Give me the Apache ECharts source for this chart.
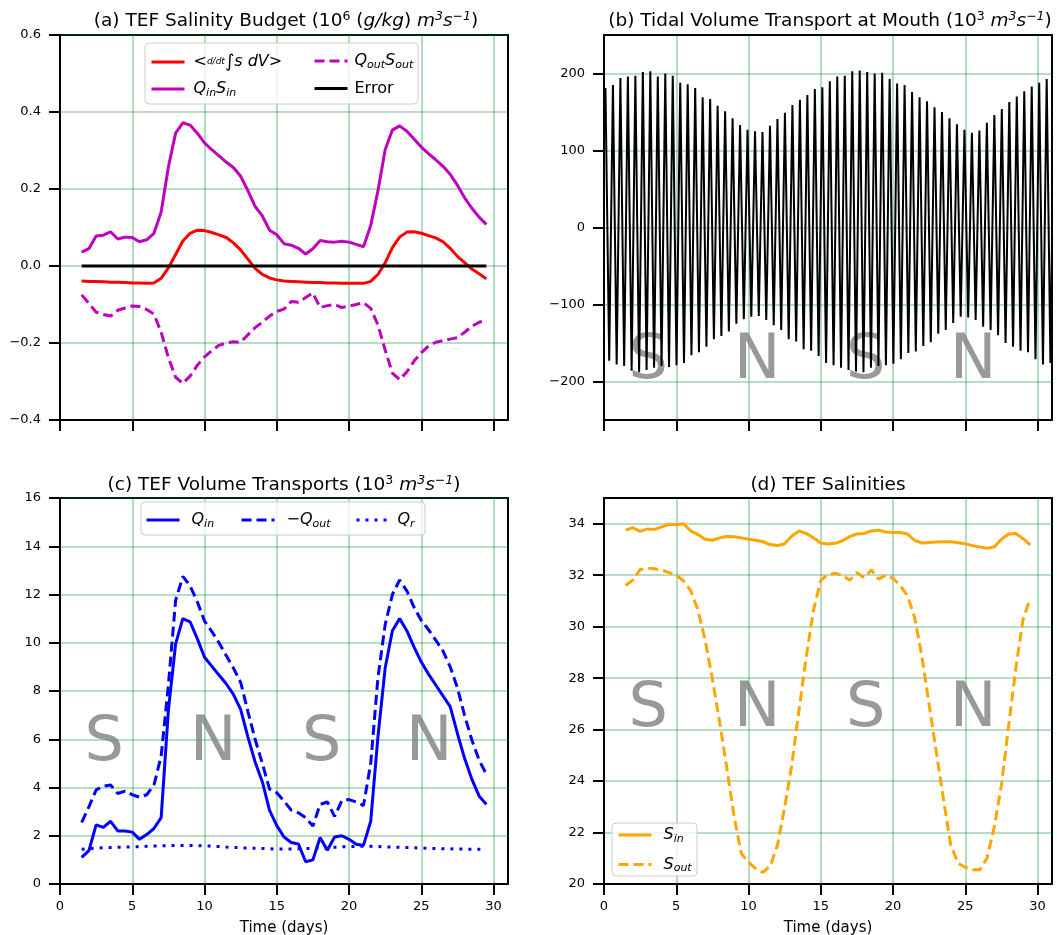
<!DOCTYPE html>
<html><head><meta charset="utf-8">
<script src="https://cdn.jsdelivr.net/npm/echarts@6/dist/echarts.min.js"></script>
<style>html,body{margin:0;padding:0;background:#fff}#c{width:1057px;height:935px}</style>
</head><body><div id="c"></div><script>
// ---------- data ----------
const days = [1.5,2,2.5,3,3.5,4,4.5,5,5.5,6,6.5,7,7.5,8,8.5,9,9.5,10,10.5,11,11.5,12,12.5,13,13.5,14,14.5,15,15.5,16,16.5,17,17.5,18,18.5,19,19.5,20,20.5,21,21.5,22,22.5,23,23.5,24,24.5,25,25.5,26,26.5,27,27.5,28,28.5,29,29.5];
// (a) salinity budget
const dsdt = [-0.039,-0.040,-0.040,-0.041,-0.042,-0.042,-0.043,-0.044,-0.044,-0.045,
  -0.044,-0.032,-0.005,0.030,0.065,0.085,0.093,0.092,0.087,0.081,
  0.074,0.060,0.042,0.018,-0.006,-0.022,-0.031,-0.036,-0.039,-0.040,
  -0.041,-0.042,-0.043,-0.043,-0.044,-0.044,-0.045,-0.045,-0.045,-0.045,
  -0.040,-0.022,0.008,0.048,0.075,0.088,0.089,0.085,0.079,0.073,
  0.063,0.046,0.025,0.009,-0.008,-0.020,-0.033];
const qinSin = [0.036,0.045,0.078,0.080,0.089,0.070,0.075,0.074,0.063,0.068,
  0.085,0.140,0.257,0.345,0.372,0.366,0.345,0.320,0.302,0.286,
  0.270,0.256,0.233,0.196,0.155,0.130,0.093,0.081,0.058,0.054,
  0.046,0.031,0.045,0.066,0.063,0.062,0.064,0.062,0.056,0.050,
  0.105,0.195,0.302,0.353,0.364,0.350,0.330,0.309,0.292,0.276,
  0.259,0.238,0.210,0.177,0.150,0.127,0.108];
const qoutSout = [-0.075,-0.097,-0.120,-0.126,-0.130,-0.115,-0.109,-0.104,-0.105,-0.113,
  -0.125,-0.172,-0.238,-0.289,-0.305,-0.286,-0.258,-0.236,-0.220,-0.206,
  -0.200,-0.197,-0.198,-0.179,-0.160,-0.146,-0.130,-0.118,-0.112,-0.092,
  -0.094,-0.082,-0.070,-0.108,-0.103,-0.100,-0.108,-0.104,-0.100,-0.095,
  -0.110,-0.153,-0.218,-0.278,-0.295,-0.275,-0.247,-0.225,-0.208,-0.198,
  -0.194,-0.190,-0.186,-0.172,-0.157,-0.146,-0.140];
const budgetError = [0,0,0,0,0,0,0,0,0,0,0,0,0,0,0,0,0,0,0,0,0,0,0,0,0,0,0,0,0,0,
  0,0,0,0,0,0,0,0,0,0,0,0,0,0,0,0,0,0,0,0,0,0,0,0,0,0,0];
// (b) tidal volume transport: successive flood peaks and ebb troughs (10^3 m3/s)
const tideStart = 0.1, tideLowStart = 0.36, tidePeriod = 0.5175;
const tideHigh = [181,185,194,196,197,202,203,196,200,197,
  188,186,181,169,167,158,151,142,133,127,
  125,124,132,141,149,159,166,172,180,182,
  190,196,197,203,204,202,200,201,193,187,
  185,176,169,164,156,150,142,134,127,123,
  126,136,146,154,163,170,177,183,188,193,196];
const tideLow = [-173,-178,-180,-186,-188,-185,-182,-180,-181,-179,
  -176,-166,-162,-155,-145,-141,-135,-125,-119,-116,
  -115,-120,-127,-133,-145,-148,-158,-160,-167,-176,
  -179,-182,-185,-187,-188,-182,-180,-179,-177,-171,
  -163,-161,-154,-149,-138,-133,-124,-116,-117,-120,
  -129,-133,-140,-150,-155,-160,-162,-171,-178,-176];
// (c) volume transports
const qin = [1.10,1.38,2.45,2.35,2.60,2.20,2.20,2.15,1.85,2.05,
  2.30,2.75,7.20,9.95,11.00,10.87,10.17,9.40,9.03,8.66,
  8.30,7.86,7.24,6.10,5.06,4.24,3.05,2.42,1.95,1.72,
  1.66,0.92,1.00,1.93,1.40,1.95,2.00,1.85,1.65,1.60,
  2.60,6.10,8.95,10.50,11.00,10.50,9.82,9.20,8.70,8.25,
  7.80,7.35,6.24,5.20,4.34,3.65,3.30];
const negQout = [2.55,3.20,3.90,4.05,4.10,3.75,3.85,3.70,3.60,3.70,
  4.10,5.30,8.25,11.75,12.75,12.36,11.70,10.90,10.47,10.00,
  9.47,8.95,8.36,7.16,6.00,5.00,3.93,3.78,3.44,3.06,
  2.95,2.75,2.40,3.30,3.40,2.80,3.45,3.50,3.40,3.25,
  5.00,8.55,10.75,12.00,12.60,12.15,11.47,10.92,10.54,10.11,
  9.66,9.00,8.13,6.98,5.97,5.14,4.55];
const qr = [1.44,1.47,1.49,1.50,1.51,1.52,1.53,1.54,1.55,1.56,
  1.57,1.58,1.59,1.60,1.60,1.60,1.59,1.58,1.57,1.55,
  1.53,1.52,1.50,1.49,1.48,1.47,1.46,1.45,1.45,1.45,
  1.46,1.47,1.48,1.49,1.50,1.52,1.54,1.55,1.56,1.56,
  1.56,1.55,1.54,1.53,1.52,1.51,1.50,1.49,1.48,1.47,
  1.46,1.46,1.45,1.45,1.44,1.44,1.44];
// (d) salinities
const sIn = [33.75,33.85,33.70,33.80,33.78,33.88,33.98,33.96,34.00,33.72,
  33.58,33.40,33.36,33.45,33.50,33.49,33.45,33.40,33.36,33.30,
  33.19,33.15,33.22,33.52,33.72,33.62,33.45,33.25,33.21,33.24,
  33.34,33.50,33.60,33.62,33.72,33.75,33.68,33.66,33.66,33.60,
  33.35,33.25,33.27,33.29,33.30,33.30,33.26,33.22,33.15,33.10,
  33.05,33.10,33.40,33.60,33.62,33.42,33.18];
const sOut = [31.60,31.82,32.22,32.27,32.25,32.20,32.10,32.00,31.78,31.40,
  30.65,29.47,27.97,26.30,24.50,22.63,21.19,20.84,20.60,20.45,
  20.70,21.50,22.98,24.64,26.78,28.85,30.65,31.80,32.03,32.07,
  32.00,31.80,32.10,31.90,32.20,31.85,32.00,31.88,31.60,31.20,
  30.35,28.83,26.97,25.10,23.26,21.50,20.80,20.65,20.55,20.55,
  21.00,22.20,23.84,26.14,28.40,30.30,31.10];
// annotations (spring / neap)
const phaseLetters = ['S','N','S','N'];
const phaseDays = [3.05, 10.6, 18.1, 25.55];
const phaseYb = -175, phaseYc = 5.8, phaseYd = 26.75;
// ticks
const xTicks = [0,5,10,15,20,25,30];
const yTicksA = [-0.4,-0.2,0,0.2,0.4,0.6];
const yTicksB = [-200,-100,0,100,200];
const yTicksC = [0,2,4,6,8,10,12,14,16];
const yTicksD = [20,22,24,26,28,30,32,34];

// ---------- chart ----------
const FONT = 'DejaVu Sans';
const GREEN = 'rgba(0,140,50,0.38)';
const chart = echarts.init(document.getElementById('c'), null, {renderer: 'canvas'});
const pair = (arr) => days.map((d, i) => [d, arr[i]]);
const tideData = [];
for (let k = 0; k < tideHigh.length; k++) {
  tideData.push([tideStart + k * tidePeriod, tideHigh[k]]);
  if (k < tideLow.length) tideData.push([tideLowStart + k * tidePeriod, tideLow[k]]);
}
const minus = (s) => String(s).replace('-', '\u2212');

const gridBox = {show: true, borderColor: '#000', borderWidth: 2, backgroundColor: 'transparent',
  containLabel: false, outerBoundsMode: 'none'};
function xAx(gi, labels) {
  return {
    type: 'value', gridIndex: gi, min: 0, max: 31, interval: 5,
    axisLine: {show: true, onZero: false, lineStyle: {color: '#000', width: 2}},
    axisTick: {show: true, length: 11, customValues: xTicks, lineStyle: {color: '#000', width: 2}},
    axisLabel: {show: labels, customValues: xTicks, margin: 16, fontSize: 13, color: '#000', fontFamily: FONT},
    splitLine: {show: true, lineStyle: {color: GREEN, width: 1.6}},
    name: labels ? 'Time (days)' : '', nameLocation: 'middle', nameGap: 37,
    nameTextStyle: {fontSize: 15, fontFamily: FONT, color: '#000'}
  };
}
function yAx(gi, min, max, interval, ticks, fmt) {
  const o = {
    type: 'value', gridIndex: gi, min: min, max: max,
    axisLine: {show: true, onZero: false, lineStyle: {color: '#000', width: 2}},
    axisTick: {show: true, length: 11, customValues: ticks, lineStyle: {color: '#000', width: 2}},
    axisLabel: {show: true, customValues: ticks, margin: 19, fontSize: 13, color: '#000', fontFamily: FONT, formatter: fmt},
    splitLine: {show: true, lineStyle: {color: GREEN, width: 1.6}}
  };
  if (interval) o.interval = interval;
  return o;
}
function line(name, xi, data, color, type, width) {
  return {
    name: name, type: 'line', xAxisIndex: xi, yAxisIndex: xi, data: data,
    symbol: 'none', z: 3, silent: true,
    lineStyle: {color: color, width: width || 3, type: type || 'solid', cap: 'butt'},
    itemStyle: {color: color}
  };
}
function letters(xi, y) {
  return {
    type: 'scatter', xAxisIndex: xi, yAxisIndex: xi, z: 1, silent: true,
    symbolSize: 1, itemStyle: {color: 'transparent'},
    data: phaseDays.map((d, i) => [d, y, phaseLetters[i]]),
    label: {show: true, position: 'inside', formatter: (p) => p.value[2],
      fontSize: 62, fontFamily: FONT, color: '#808080'}
  };
}

const rich = {
  n: {fontFamily: FONT, fontSize: 16, color: '#000', lineHeight: 19},
  i: {fontFamily: FONT, fontSize: 16, fontStyle: 'italic', color: '#000', lineHeight: 19},
  b: {fontFamily: FONT, fontSize: 11, fontStyle: 'italic', color: '#000', verticalAlign: 'bottom', lineHeight: 11},
  f: {fontFamily: FONT, fontSize: 9, fontStyle: 'italic', color: '#000', lineHeight: 19},
  g: {fontFamily: FONT, fontSize: 18, color: '#000', lineHeight: 19}
};
const legendText = {
  dsdt: '{n|<}{f|d/dt}{g|\u222B}{i|s dV}{n|>}',
  QinSin: '{i|Q}{b|in}{i|S}{b|in}',
  QoutSout: '{i|Q}{b|out}{i|S}{b|out}',
  Error: '{n|Error}',
  Qin: '{i|Q}{b|in}',
  negQout: '{n|\u2212}{i|Q}{b|out}',
  Qr: '{i|Q}{b|r}',
  Sin: '{i|S}{b|in}',
  Sout: '{i|S}{b|out}'
};
function legend(names, left, top, orient, textPad, gap) {
  return {
    data: names, left: left, top: top, orient: orient || 'vertical', padding: 0,
    itemWidth: 33, itemHeight: 14, itemGap: gap || 12, selectedMode: false, z: 5,
    itemStyle: {opacity: 0},
    lineStyle: {width: 3},
    formatter: (n) => legendText[n],
    textStyle: {rich: rich, padding: [0, 0, 0, textPad]}
  };
}

const tRich = {
  n: {fontFamily: FONT, fontSize: 18.5, fill: '#000', lineHeight: 22},
  i: {fontFamily: FONT, fontSize: 18.5, fontStyle: 'italic', fill: '#000', lineHeight: 22},
  s: {fontFamily: FONT, fontSize: 12.5, fill: '#000', verticalAlign: 'top', lineHeight: 12},
  si: {fontFamily: FONT, fontSize: 12.5, fontStyle: 'italic', fill: '#000', verticalAlign: 'top', lineHeight: 12}
};
function title(x, y, text) {
  return {type: 'text', x: x, y: y, z: 10, silent: true,
    style: {text: text, align: 'center', verticalAlign: 'middle', rich: tRich, fontFamily: FONT, fontSize: 18.5, fill: '#000'}};
}
function frame(x, y, w, h) {
  return {type: 'rect', z: 4, silent: true, shape: {x: x, y: y, width: w, height: h, r: 4},
    style: {fill: 'rgba(255,255,255,0.8)', stroke: '#cccccc', lineWidth: 1}};
}

const option = {
  animation: false,
  textStyle: {fontFamily: FONT},
  grid: [
    Object.assign({left: 60, top: 35, width: 448, height: 385}, gridBox),
    Object.assign({left: 604, top: 35, width: 448, height: 385}, gridBox),
    Object.assign({left: 60, top: 498, width: 448, height: 386}, gridBox),
    Object.assign({left: 604, top: 498, width: 448, height: 386}, gridBox)
  ],
  xAxis: [xAx(0, false), xAx(1, false), xAx(2, true), xAx(3, true)],
  yAxis: [
    yAx(0, -0.4, 0.6, 0.2, yTicksA, (v) => minus(v.toFixed(1))),
    yAx(1, -250, 250, null, yTicksB, (v) => minus(v)),
    yAx(2, 0, 16, 2, yTicksC, (v) => String(v)),
    yAx(3, 20, 35, 2, yTicksD, (v) => String(v))
  ],
  legend: [
    legend(['dsdt', 'QinSin'], 150, 53, 'vertical', 4, 10),
    legend(['QoutSout', 'Error'], 313, 53, 'vertical', 2, 10),
    legend(['Qin'], 145, 512, 'horizontal', 7),
    legend(['negQout'], 240, 512, 'horizontal', 7),
    legend(['Qr'], 355, 512, 'horizontal', 3),
    legend(['Sin', 'Sout'], 617, 827, 'vertical', 7, 12)
  ],
  graphic: [
    title(286, 21, '{n|(a) TEF Salinity Budget (10}{s|6}{n| (}{i|g/kg}{n|) }{i|m}{si|3}{i|s}{si|\u22121}{n|)}'),
    title(830, 21, '{n|(b) Tidal Volume Transport at Mouth (10}{s|3}{n| }{i|m}{si|3}{i|s}{si|\u22121}{n|)}'),
    title(284, 485, '{n|(c) TEF Volume Transports (10}{s|3}{n| }{i|m}{si|3}{i|s}{si|\u22121}{n|)}'),
    title(828, 485, '{n|(d) TEF Salinities}'),
    frame(145, 43, 273, 61),
    frame(141, 502, 284, 33),
    frame(612, 823, 85, 53)
  ],
  series: [
    line('dsdt', 0, pair(dsdt), '#ff0000'),
    line('QinSin', 0, pair(qinSin), '#bf00bf'),
    line('QoutSout', 0, pair(qoutSout), '#bf00bf', [10, 5]),
    line('Error', 0, pair(budgetError), '#000000'),
    line('tide', 1, tideData, '#000000', 'solid', 2),
    letters(1, phaseYb),
    letters(2, phaseYc),
    line('Qin', 2, pair(qin), '#0000ff'),
    line('negQout', 2, pair(negQout), '#0000ff', [10, 5]),
    line('Qr', 2, pair(qr), '#0000ff', [3, 6]),
    letters(3, phaseYd),
    line('Sin', 3, pair(sIn), '#ffa500'),
    line('Sout', 3, pair(sOut), '#ffa500', [10, 5])
  ]
};
chart.setOption(option);
</script></body></html>
